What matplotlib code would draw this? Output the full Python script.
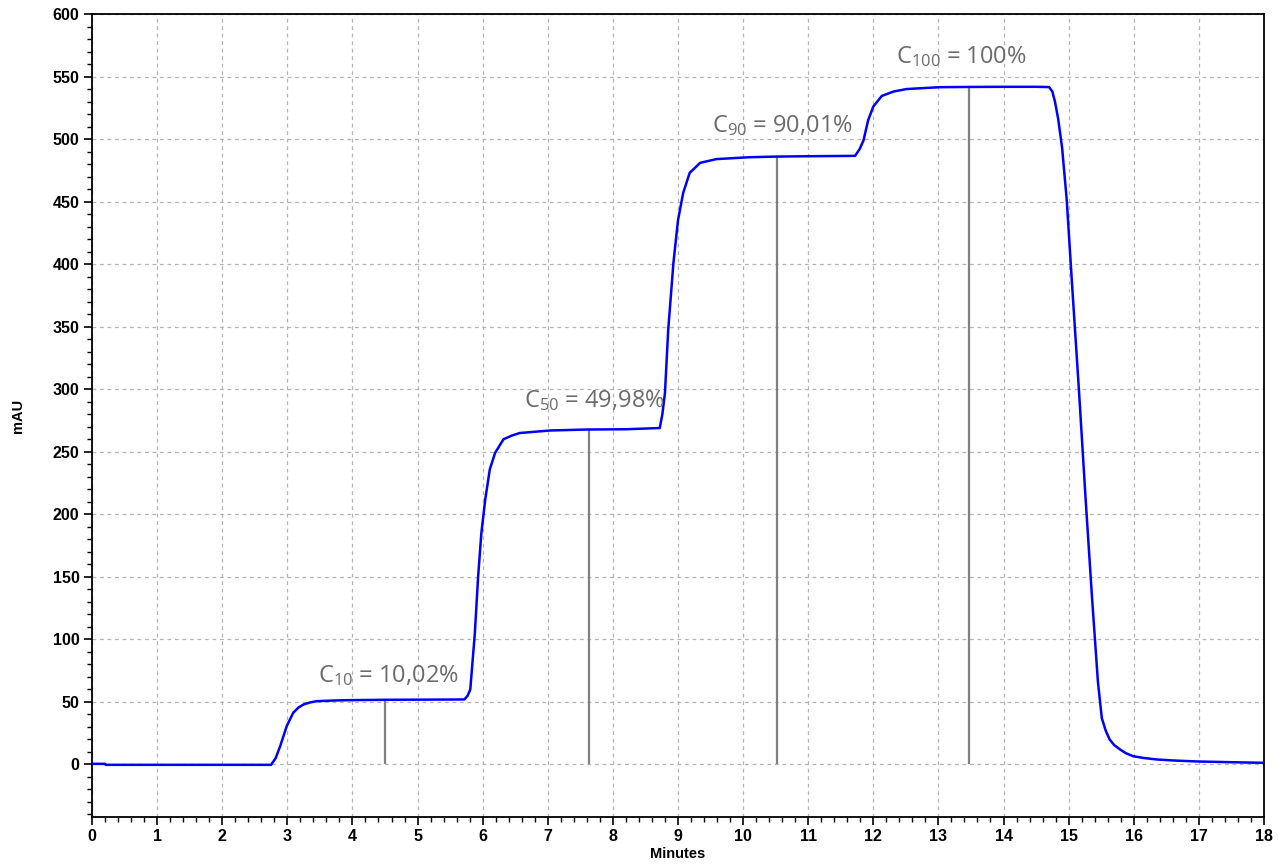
import matplotlib.pyplot as plt
from matplotlib.ticker import MultipleLocator

# trace (minutes, mAU)
minutes = [0.0, 0.2, 0.21, 1.0, 2.0, 2.75, 2.82, 2.89, 2.99, 3.09, 3.17, 3.25, 3.35, 3.45, 3.7, 3.91, 4.5, 5.0, 5.5, 5.72,
           5.77, 5.81, 5.88, 5.93, 5.98, 6.04, 6.11, 6.19, 6.32, 6.45, 6.57, 7.03, 7.6, 8.2, 8.72,
           8.76, 8.80, 8.85, 8.93, 9.00, 9.08, 9.18, 9.34, 9.59, 10.1, 10.5, 11.0, 11.5, 11.72,
           11.79, 11.85, 11.92, 12.0, 12.13, 12.31, 12.51, 13.02, 13.5, 14.0, 14.5, 14.70,
           14.75, 14.79, 14.84, 14.90, 14.97, 15.06, 15.16, 15.26, 15.36, 15.45, 15.51, 15.57, 15.63,
           15.70, 15.79, 15.88, 15.99, 16.15, 16.35, 16.6, 16.97, 17.5, 18.0]
mau = [0.5, 0.5, -0.3, -0.3, -0.3, -0.3, 5.0, 14.6, 30.6, 41.3, 45.5, 48.0, 49.6, 50.6, 51.1, 51.4, 51.7, 51.8, 51.9, 52.0,
       55.0, 60.0, 105.0, 150.0, 185.0, 212.0, 236.0, 249.0, 260.0, 263.0, 265.0, 267.0, 267.8, 268.0, 269.0,
       280.0, 297.0, 347.5, 401.0, 435.0, 457.0, 473.0, 481.0, 484.0, 485.5, 486.0, 486.3, 486.5, 486.6,
       492.0, 499.0, 515.0, 526.0, 534.5, 538.0, 540.0, 541.5, 541.7, 541.8, 541.8, 541.6,
       538.0, 530.0, 516.0, 493.0, 452.0, 378.0, 298.0, 213.0, 133.0, 66.0, 37.0, 27.0, 20.0,
       15.5, 12.0, 9.0, 6.6, 5.2, 4.0, 3.2, 2.4, 1.8, 1.3]

# marker lines and labels
mark_x = [4.5, 7.63, 10.52, 13.47]
mark_top = [51.5, 268.0, 486.5, 541.5]
label_sub = ['10', '50', '90', '100']
label_val = ['10,02%', '49,98%', '90,01%', '100%']
label_x = [3.476, 6.635, 9.52, 12.35]
label_y = [65.8, 285.8, 505.2, 560.6]

plt.rcParams['mathtext.fontset'] = 'custom'
plt.rcParams['mathtext.rm'] = 'Open Sans'
plt.rcParams['mathtext.it'] = 'Open Sans'

fig = plt.figure(figsize=(12.78, 8.65), dpi=100)
ax = fig.add_axes([0.072, 0.0555, 0.917, 0.9283])

ax.plot(minutes, mau, color='#0000ff', lw=1.8, zorder=3)

for x, top in zip(mark_x, mark_top):
    ax.vlines(x, 0, top, color='#808080', lw=1.6, zorder=2)

for x, y, s, v in zip(label_x, label_y, label_sub, label_val):
    ax.text(x, y, 'C$_{' + s + '}$ = ' + v, fontsize=17, color='#6b6b6b',
            family='Open Sans', ha='left', va='baseline', zorder=4)

ax.set_xlim(0, 18)
ax.set_ylim(-42, 600)
ax.xaxis.set_major_locator(MultipleLocator(1))
ax.xaxis.set_minor_locator(MultipleLocator(0.2))
ax.yaxis.set_major_locator(MultipleLocator(50))
ax.yaxis.set_minor_locator(MultipleLocator(10))

ax.grid(True, which='major', color='#b4b4b4', ls=(0, (3, 3)), lw=0.9)
ax.tick_params(which='major', length=6, width=1.2, direction='out', labelsize=11.5, pad=3)
ax.tick_params(which='minor', length=3.5, width=1.0, direction='out')
for lab in ax.get_xticklabels() + ax.get_yticklabels():
    lab.set_fontweight('bold')
    lab.set_family('Liberation Sans')
for sp in ax.spines.values():
    sp.set_linewidth(1.3)

ax.set_xlabel('Minutes', fontsize=10.5, fontweight='bold', family='Liberation Sans', labelpad=2)
ax.set_ylabel('mAU', fontsize=10.5, fontweight='bold', family='Liberation Sans', labelpad=20)

fig.savefig('out.png', dpi=100)
